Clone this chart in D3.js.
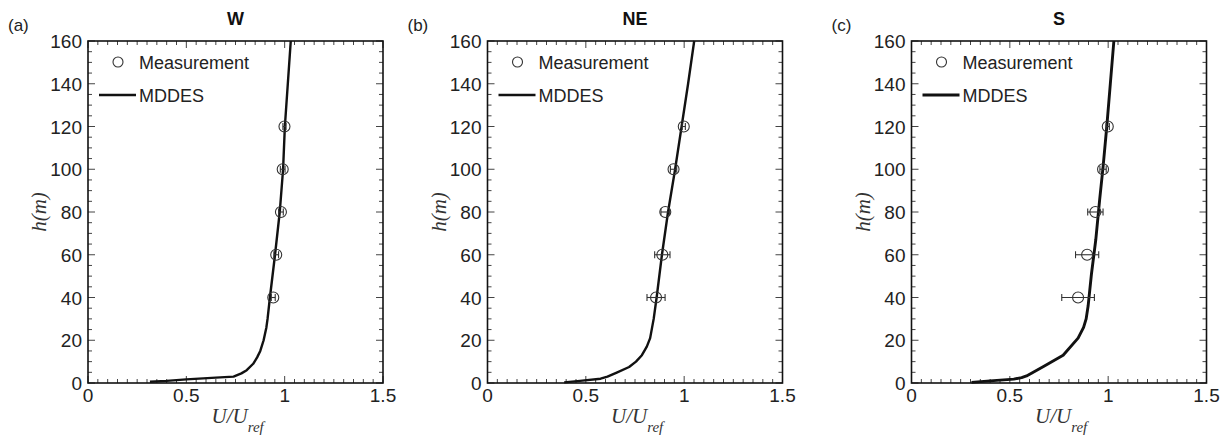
<!DOCTYPE html>
<html>
<head>
<meta charset="utf-8">
<script src="https://cdn.jsdelivr.net/npm/d3@7/dist/d3.min.js"></script>
<style>
  html, body { margin: 0; padding: 0; background: #fff; }
  svg { display: block; }
</style>
</head>
<body>
<svg id="chart" width="1229" height="437"></svg>
<script>
// ---------- data ----------
const panelTitles = ["W", "NE", "S"];
const panelLetters = ["(a)", "(b)", "(c)"];
const xTickValues = [0, 0.5, 1, 1.5];
const yTickValues = [0, 20, 40, 60, 80, 100, 120, 140, 160];
const legendLabels = ["Measurement", "MDDES"];

const measHeights = [40, 60, 80, 100, 120];
const measW  = [0.942, 0.957, 0.981, 0.99, 0.999];
const errW   = [0.01, 0.012, 0.012, 0.012, 0.008];
const measNE = [0.857, 0.889, 0.904, 0.946, 0.998];
const errNE  = [0.046, 0.039, 0.022, 0.016, 0.008];
const measS  = [0.847, 0.893, 0.935, 0.974, 0.998];
const errS   = [0.083, 0.059, 0.039, 0.016, 0.008];

const lineW_h = [0.6, 1.0, 1.7, 2.5, 3.0, 4.5, 6, 9, 12, 15, 20, 26, 30, 40, 60, 80, 100, 120, 140, 160];
const lineW_u = [0.315, 0.40, 0.50, 0.65, 0.74, 0.78, 0.807, 0.84, 0.86, 0.876, 0.893, 0.907, 0.913, 0.925, 0.951, 0.975, 0.992, 1.001, 1.016, 1.031];

const lineNE_h = [0.3, 1, 2, 3, 5, 7.5, 10, 13, 17, 21, 30, 40, 60, 80, 100, 120, 140, 160];
const lineNE_u = [0.39, 0.47, 0.575, 0.61, 0.66, 0.72, 0.755, 0.785, 0.81, 0.827, 0.845, 0.86, 0.887, 0.918, 0.954, 0.987, 1.02, 1.051];

const lineS_h = [0.3, 1, 1.8, 2.5, 3.3, 7.6, 13, 21, 26, 30, 36, 51, 67, 86, 101, 120, 140, 160];
const lineS_u = [0.305, 0.40, 0.52, 0.56, 0.585, 0.669, 0.771, 0.847, 0.875, 0.888, 0.898, 0.915, 0.937, 0.957, 0.974, 0.993, 1.011, 1.029];

const panels = [
  { title: panelTitles[0], letter: panelLetters[0], left: 88,    meas: measW,  err: errW,  lh: lineW_h,  lu: lineW_u,  lw: 2.4 },
  { title: panelTitles[1], letter: panelLetters[1], left: 487.5, meas: measNE, err: errNE, lh: lineNE_h, lu: lineNE_u, lw: 2.4 },
  { title: panelTitles[2], letter: panelLetters[2], left: 911.5, meas: measS,  err: errS,  lh: lineS_h,  lu: lineS_u,  lw: 2.9 }
];

// ---------- drawing ----------
const svg = d3.select("#chart");
const W = 295, TOP = 41, BOTTOM = 383;
const sans = "'Liberation Sans', Arial, Helvetica, sans-serif";
const serif = "'Liberation Serif', 'Times New Roman', serif";

panels.forEach(p => {
  const x = d3.scaleLinear().domain([0, 1.5]).range([p.left, p.left + W]);
  const y = d3.scaleLinear().domain([0, 160]).range([BOTTOM, TOP]);
  const g = svg.append("g");

  const xMinor = d3.range(0, 1.5001, 0.05);
  const yMinor = d3.range(0, 160.001, 5);
  const isMajX = v => Math.abs(v * 2 - Math.round(v * 2)) < 1e-6;
  const isMajY = v => Math.abs(v / 20 - Math.round(v / 20)) < 1e-6;

  // inward ticks on all four sides
  const tg = g.append("g").attr("stroke", "#444").attr("stroke-width", 1);
  xMinor.forEach(v => {
    const len = isMajX(v) ? 7 : 4;
    tg.append("line").attr("x1", x(v)).attr("x2", x(v)).attr("y1", BOTTOM).attr("y2", BOTTOM - len);
    tg.append("line").attr("x1", x(v)).attr("x2", x(v)).attr("y1", TOP).attr("y2", TOP + len);
  });
  yMinor.forEach(v => {
    const len = isMajY(v) ? 7 : 4;
    tg.append("line").attr("y1", y(v)).attr("y2", y(v)).attr("x1", p.left).attr("x2", p.left + len);
    tg.append("line").attr("y1", y(v)).attr("y2", y(v)).attr("x1", p.left + W).attr("x2", p.left + W - len);
  });

  // frame
  g.append("rect").attr("x", p.left).attr("y", TOP).attr("width", W).attr("height", BOTTOM - TOP)
    .attr("fill", "none").attr("stroke", "#111").attr("stroke-width", 1.6);

  // tick labels
  g.selectAll(".xt").data(xTickValues).enter().append("text")
    .attr("x", d => x(d)).attr("y", 402).attr("text-anchor", "middle")
    .attr("font-family", sans).attr("font-size", 19).attr("fill", "#222")
    .text(d => d3.format("~g")(d));
  g.selectAll(".yt").data(yTickValues).enter().append("text")
    .attr("x", p.left - 6).attr("y", d => y(d) + 7).attr("text-anchor", "end")
    .attr("font-family", sans).attr("font-size", 19).attr("fill", "#222")
    .text(d => d);

  // title and panel letter
  g.append("text").attr("x", p.left + W / 2).attr("y", 25).attr("text-anchor", "middle")
    .attr("font-family", sans).attr("font-weight", "bold").attr("font-size", 18).attr("fill", "#111")
    .text(p.title);
  g.append("text").attr("x", p.left - 80).attr("y", 31)
    .attr("font-family", sans).attr("font-size", 17).attr("fill", "#222")
    .text(p.letter);

  // axis labels
  g.append("text")
    .attr("transform", `translate(${p.left - 42},212) rotate(-90)`)
    .attr("text-anchor", "middle")
    .attr("font-family", serif).attr("font-style", "italic").attr("font-size", 21).attr("fill", "#333")
    .text("h(m)");
  const xl = g.append("text").attr("x", p.left + W / 2 - 24).attr("y", 423)
    .attr("font-family", serif).attr("font-style", "italic").attr("font-size", 21).attr("fill", "#333");
  xl.append("tspan").text("U/U");
  xl.append("tspan").attr("dy", 9).attr("font-size", 15).text("ref");

  // simulated profile
  const lineData = p.lh.map((h, i) => [p.lu[i], h]);
  g.append("path").datum(lineData)
    .attr("d", d3.line().x(d => x(d[0])).y(d => y(d[1])))
    .attr("fill", "none").attr("stroke", "#111").attr("stroke-width", p.lw).attr("stroke-linejoin", "round");

  // measurements with error bars
  const mg = g.append("g").attr("stroke", "#333").attr("fill", "none").attr("stroke-width", 1.1);
  measHeights.forEach((h, i) => {
    const u = p.meas[i], e = p.err[i];
    const cy = y(h);
    mg.append("line").attr("x1", x(u - e)).attr("x2", x(u + e)).attr("y1", cy).attr("y2", cy);
    mg.append("line").attr("x1", x(u - e)).attr("x2", x(u - e)).attr("y1", cy - 3.5).attr("y2", cy + 3.5);
    mg.append("line").attr("x1", x(u + e)).attr("x2", x(u + e)).attr("y1", cy - 3.5).attr("y2", cy + 3.5);
    mg.append("circle").attr("cx", x(u)).attr("cy", cy).attr("r", 5.5);
  });

  // legend
  g.append("circle").attr("cx", p.left + 30).attr("cy", 62).attr("r", 5)
    .attr("fill", "none").attr("stroke", "#333").attr("stroke-width", 1.1);
  g.append("text").attr("x", p.left + 51).attr("y", 68.5)
    .attr("font-family", sans).attr("font-size", 18).attr("fill", "#222").text(legendLabels[0]);
  g.append("line").attr("x1", p.left + 11).attr("x2", p.left + 48).attr("y1", 95).attr("y2", 95)
    .attr("stroke", "#111").attr("stroke-width", p.lw);
  g.append("text").attr("x", p.left + 51).attr("y", 102)
    .attr("font-family", sans).attr("font-size", 18).attr("fill", "#222").text(legendLabels[1]);
});
</script>
</body>
</html>
